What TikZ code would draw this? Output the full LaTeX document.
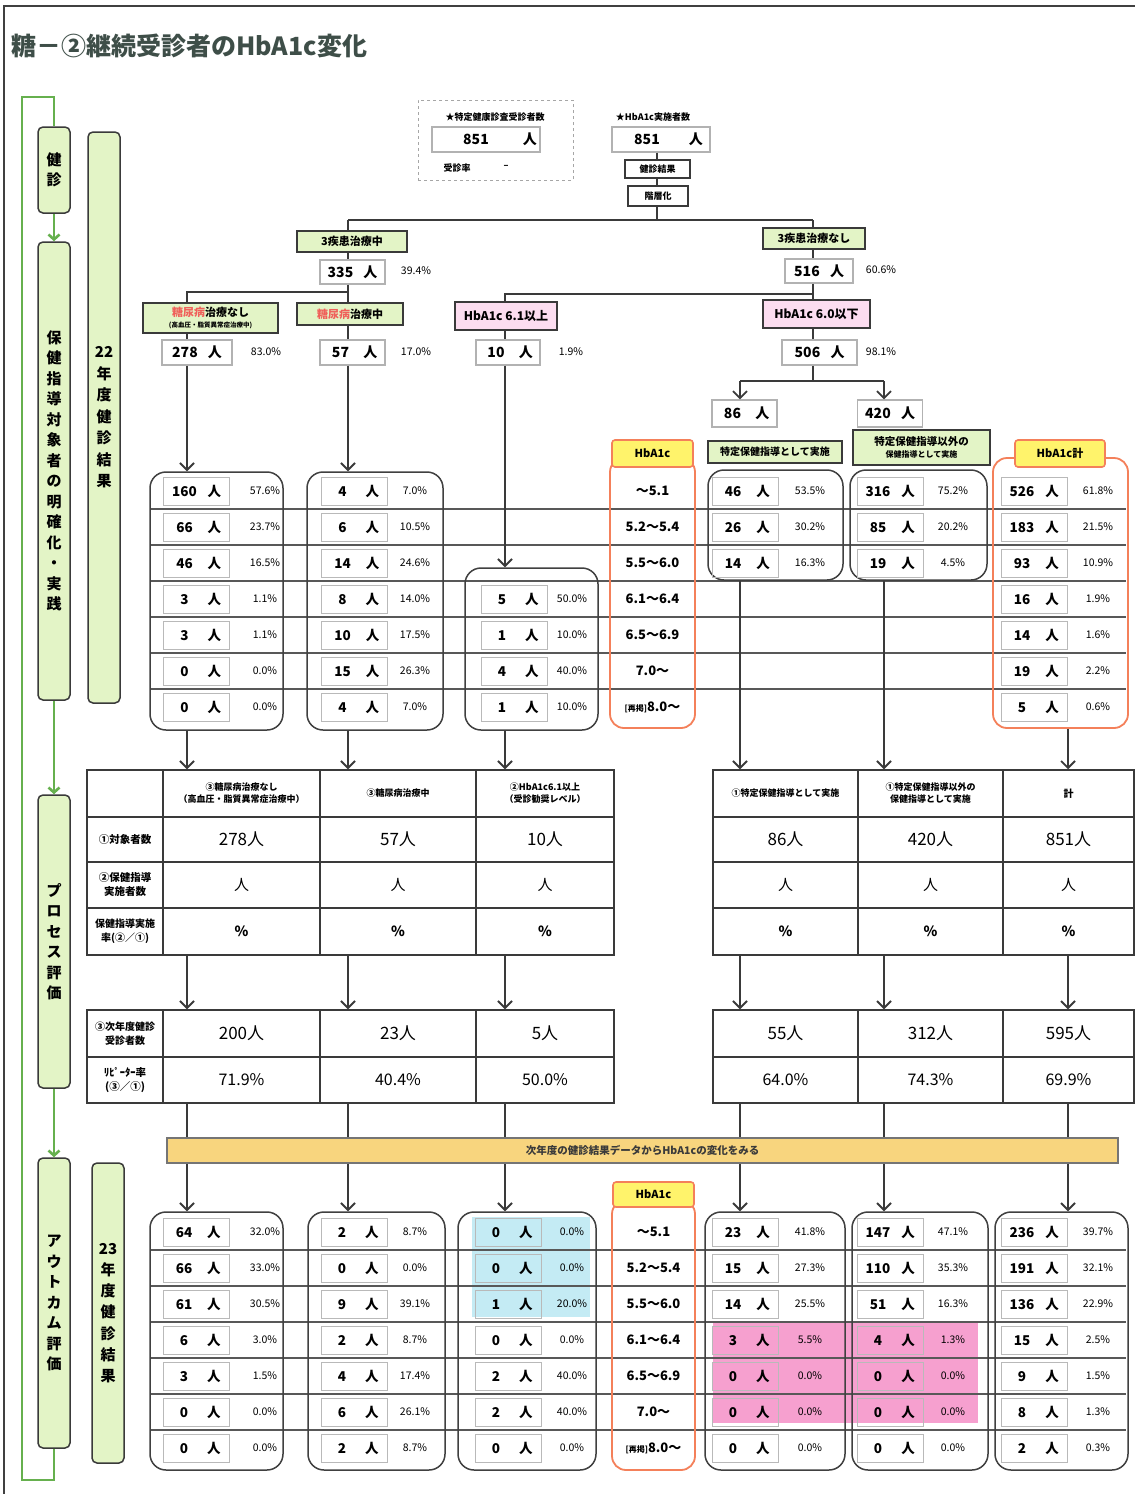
\documentclass[tikz,border=0pt]{standalone}
\usepackage{fontspec}
\setmainfont{Noto Sans CJK JP}
\usetikzlibrary{arrows.meta}
\newcommand\fz[1]{\fontsize{#1}{#1}\selectfont}
\newcommand\fzl[2]{\fontsize{#1}{#2}\selectfont}
\newcommand\nn[1]{\makebox[36pt][c]{#1}\makebox[24pt][c]{人}}
\newcommand\rowcell[6]{%
 \node[numbox] (#1) at (#2,#3) {\nn{#4}};
 \node[pct] (#1p) at (#5,#3) {#6\%};}
\definecolor{ln}{HTML}{3A3A3A}
\definecolor{lgreen}{HTML}{E3F4C6}
\definecolor{gline}{HTML}{66B04E}
\definecolor{lpink}{HTML}{FCDDF0}
\definecolor{orng}{HTML}{F4805A}
\definecolor{yel}{HTML}{FFF36B}
\definecolor{banner}{HTML}{F8D57E}
\definecolor{cyanh}{HTML}{C4EBF4}
\definecolor{pinkh}{HTML}{F6A0CF}
\definecolor{titlec}{HTML}{3E4E48}
\definecolor{redt}{HTML}{F0605A}
\begin{document}
\begin{tikzpicture}[x=1pt,y=-1pt,
 tl/.style={draw=ln,line width=1.8pt},
 arr/.style={draw=ln,line width=1.8pt,-{Straight Barb[length=7pt,width=14pt]}},
 garr/.style={draw=gline,line width=2.6pt,-{Straight Barb[length=5pt,width=11pt]}},
 gl/.style={draw=gline,line width=2.6pt},
 numbox/.style={draw=gray!55,line width=1pt,minimum width=66pt,minimum height=28pt,inner sep=0pt,font=\fz{13.5}\bfseries},
 pct/.style={font=\fz{10.5},inner sep=0pt},
 tbox/.style={draw=gray!60,fill=white,line width=1.2pt,inner sep=0pt,font=\fz{14}\bfseries},
 sbox/.style={draw=ln,fill=white,line width=1.2pt,inner sep=0pt,font=\fz{9}\bfseries},
 gbox/.style={draw=ln,fill=lgreen,line width=1.3pt,inner sep=1pt,font=\fzl{11}{13}\bfseries,align=center},
 pbox/.style={draw=ln,fill=lpink,line width=1.3pt,inner sep=1pt,font=\fz{12}\bfseries},
 hbh/.style={draw=orng,fill=yel,line width=1.6pt,rounded corners=3pt,inner sep=0pt,font=\fz{11}\bfseries},
 oframe/.style={draw=orng,line width=1.8pt,rounded corners=14pt,inner sep=0pt},
 tframe/.style={draw=gray!50!black,line width=1.5pt,rounded corners=16pt,inner sep=0pt},
 sep/.style={draw=ln!85,line width=1.2pt},
 ptab/.style={draw=ln,line width=1.5pt,inner sep=0pt},
 grid/.style={draw=ln,line width=1.3pt},
 lbox/.style={draw=ln,fill=lgreen,line width=1.5pt,rounded corners=5pt,inner sep=0pt,minimum width=32pt},
 vtxt/.style={align=center,font=\fzl{15}{20.5}\bfseries},
 hb/.style={font=\fz{13}\bfseries},
 cellh/.style={font=\fzl{9}{12}\bfseries,align=center,inner sep=0pt},
 cellv/.style={font=\fz{17}},
]
\useasboundingbox (0,0) rectangle (1135,1494);
\fill[white] (0,0) rectangle (1135,1494);
\draw[gray!50!black,line width=1.5pt] (1135,6) -- (4,6) -- (4,1494);

% title
\node[anchor=west,font=\fz{25}\bfseries,text=titlec,inner sep=0pt] (title) at (11,46) {糖－②継続受診者のHbA1c変化};

% left flow
\node[lbox,minimum height=86pt,vtxt] (L1) at (54,170) {健\\診};
\node[lbox,minimum height=458pt,vtxt] (L2) at (54,471) {保\\健\\指\\導\\対\\象\\者\\の\\明\\確\\化\\・\\実\\践};
\node[lbox,minimum height=293pt,vtxt] (L3) at (54,941.5) {プ\\ロ\\セ\\ス\\評\\価};
\node[lbox,minimum height=290pt,vtxt] (L4) at (54,1303) {ア\\ウ\\ト\\カ\\ム\\評\\価};
\node[lbox,minimum height=571pt,vtxt,font=\fzl{15}{21.5}\bfseries] (Y22) at (104,417.5) {22\\年\\度\\健\\診\\結\\果};
\node[lbox,minimum height=300pt,vtxt,font=\fzl{15}{21.2}\bfseries] (Y23) at (108,1313) {23\\年\\度\\健\\診\\結\\果};
\coordinate (gTL) at (22,97);
\coordinate (gBL) at (22,1480);
\draw[gl] (L1.north) |- (gTL) -- (gBL) -| (L4.south);
\draw[garr] (L1.south) -- (L2.north);
\draw[garr] (L2.south) -- (L3.north);
\draw[garr] (L3.south) -- (L4.north);

% column coordinates
\coordinate (c1) at (187,0);
\coordinate (c2) at (348,0);
\coordinate (c3) at (505,0);
\coordinate (c4) at (740,0);
\coordinate (c5) at (884,0);
\coordinate (c6) at (1068,0);
\coordinate (xT) at (657,0);
\coordinate (xR) at (813,0);
\coordinate (jA) at (657,220);
\coordinate (jB) at (348,292);
\coordinate (jC) at (813,294);
\coordinate (jD) at (813,381);

% top boxes
\node[draw=gray!70,dashed,line width=1pt,minimum width=155pt,minimum height=80pt] (dotbox) at (495.5,140) {};
\node[font=\fz{9}\bfseries] (dottitle) at (495,117) {★特定健康診査受診者数};
\node[tbox,minimum width=108pt,minimum height=25pt] (n851a) at (486,139.5) {\makebox[88pt]{851}\makebox[20pt]{人}};
\node[font=\fz{9}\bfseries,anchor=west] (rate) at (440,168) {受診率};
\node[font=\fz{9}\bfseries] (ratev) at (506,167) {--};
\node[font=\fz{9}\bfseries] (hbtitle) at (653,117) {★HbA1c実施者数};
\node[tbox,minimum width=98pt,minimum height=25pt] (n851b) at (661,139.5) {\makebox[70pt]{851}\makebox[28pt]{人}};
\node[sbox,minimum width=65pt,minimum height=18pt] (kres) at (657.5,169) {健診結果};
\node[sbox,minimum width=60pt,minimum height=20pt] (kaiso) at (658,196) {階層化};

% tree nodes
\node[gbox,minimum width=110pt,minimum height=21pt] (g3a) at (352,241.5) {3疾患治療中};
\node[gbox,minimum width=102pt,minimum height=21pt] (g3b) at (814,238.5) {3疾患治療なし};
\node[tbox,minimum width=65pt,minimum height=24pt] (n335) at (352.5,272) {\nn{335}};
\node[pct] (p335) at (416,271) {39.4\%};
\node[tbox,minimum width=68pt,minimum height=24pt] (n516) at (819,271) {\nn{516}};
\node[pct] (p516) at (881,270) {60.6\%};
\node[gbox,minimum width=135pt,minimum height=30pt] (gA) at (210.5,318) {{\color{redt}糖尿病}治療なし\\[-2pt]{\fz{6.5}(高血圧・脂質異常症治療中)}};
\node[gbox,minimum width=106pt,minimum height=22pt] (gB) at (350,314) {{\color{redt}糖尿病}治療中};
\node[pbox,minimum width=102pt,minimum height=28pt] (pA) at (506,316) {HbA1c 6.1以上};
\node[pbox,minimum width=107pt,minimum height=28pt] (pB) at (816.5,314) {HbA1c 6.0以下};
\node[tbox,minimum width=70pt,minimum height=25pt] (n278) at (197,352.5) {\nn{278}};
\node[pct] (p278) at (266,352) {83.0\%};
\node[tbox,minimum width=65pt,minimum height=25pt] (n57) at (352.5,352.5) {\nn{57}};
\node[pct] (p57) at (416,352) {17.0\%};
\node[tbox,minimum width=64pt,minimum height=25pt] (n10) at (508,352.5) {\nn{10}};
\node[pct] (p10) at (571,352) {1.9\%};
\node[tbox,minimum width=75pt,minimum height=25pt] (n506) at (819.5,352.5) {\nn{506}};
\node[pct] (p506) at (881,352) {98.1\%};
\node[tbox,minimum width=65pt,minimum height=27pt] (n86) at (744.5,413.5) {\nn{86}};
\node[tbox,minimum width=65pt,minimum height=27pt] (n420) at (890,413.5) {\nn{420}};
\node[gbox,minimum width=134pt,minimum height=22pt,font=\fz{10}\bfseries] (gC) at (775,452) {特定保健指導として実施};
\node[gbox,minimum width=137pt,minimum height=35pt,font=\fzl{10.5}{12}\bfseries] (gD) at (921.5,447.5) {特定保健指導以外の\\{\fz{8}保健指導として実施}};

% tree lines
\draw[tl] (n851b.south -| xT) -- (kres.north -| xT);
\draw[tl] (kres.south -| xT) -- (kaiso.north -| xT);
\draw[tl] (kaiso.south -| xT) -- (jA);
\draw[tl] (jA -| c2) -- (jA -| xR);
\draw[tl] (jA -| c2) -- (g3a.north -| c2);
\draw[tl] (jA -| xR) -- (g3b.north -| xR);
\draw[tl] (g3a.south -| c2) -- (n335.north -| c2);
\draw[tl] (g3b.south -| xR) -- (n516.north -| xR);
\draw[tl] (n335.south -| c2) -- (jB) -- (jB -| c1) -- (gA.north -| c1);
\draw[tl] (jB) -- (gB.north -| c2);
\draw[tl] (gA.south -| c1) -- (n278.north -| c1);
\draw[tl] (gB.south -| c2) -- (n57.north -| c2);
\draw[tl] (n516.south -| xR) -- (jC) -- (jC -| c3) -- (pA.north -| c3);
\draw[tl] (jC) -- (pB.north -| xR);
\draw[tl] (pA.south -| c3) -- (n10.north -| c3);
\draw[tl] (pB.south -| xR) -- (n506.north -| xR);
\draw[tl] (n506.south -| xR) -- (jD);
\draw[tl] (jD -| c4) -- (jD -| c5);
\draw[arr] (jD -| c4) -- (n86.north -| c4);
\draw[arr] (jD -| c5) -- (n420.north -| c5);

% upper separators
\foreach \yy in {509,545,581,617,653} \draw[sep] (150,\yy) -- (1126,\yy);
\draw[sep,line width=2.4pt] (150,689) -- (1126,689);

% upper frames
\node[tframe,minimum width=133pt,minimum height=258pt] (T1) at (216.5,601) {};
\node[tframe,minimum width=136pt,minimum height=258pt] (T2) at (375,601) {};
\node[tframe,minimum width=133pt,minimum height=162pt] (T3) at (531.5,649) {};
\node[oframe,minimum width=85pt,minimum height=270pt] (H1) at (652.5,593) {};
\node[tframe,minimum width=135pt,minimum height=110pt] (T4) at (775.5,525) {};
\node[tframe,minimum width=137pt,minimum height=110pt] (T5) at (918.5,525) {};
\node[oframe,minimum width=135pt,minimum height=270pt] (T6) at (1060.5,593) {};
\node[hbh,minimum width=81pt,minimum height=27pt] (H1h) at (652.5,453.5) {HbA1c};
\node[hbh,minimum width=90pt,minimum height=27pt] (T6h) at (1060,453.5) {HbA1c計};

\draw[arr] (n278.south -| c1) -- (T1.north -| c1);
\draw[arr] (n57.south -| c2) -- (T2.north -| c2);
\draw[arr] (n10.south -| c3) -- (T3.north -| c3);

% upper cells
\foreach \n/\p [count=\i] in {160/57.6,66/23.7,46/16.5,3/1.1,3/1.1,0/0.0,0/0.0}{\rowcell{ua\i}{196.5}{455+36*\i}{\n}{265}{\p}}
\foreach \n/\p [count=\i] in {4/7.0,6/10.5,14/24.6,8/14.0,10/17.5,15/26.3,4/7.0}{\rowcell{ub\i}{354.5}{455+36*\i}{\n}{415}{\p}}
\foreach \n/\p [count=\i from 4] in {5/50.0,1/10.0,4/40.0,1/10.0}{\rowcell{uc\i}{514}{455+36*\i}{\n}{572}{\p}}
\foreach \n/\p [count=\i] in {46/53.5,26/30.2,14/16.3}{\rowcell{ud\i}{745}{455+36*\i}{\n}{810}{\p}}
\foreach \n/\p [count=\i] in {316/75.2,85/20.2,19/4.5}{\rowcell{ue\i}{890}{455+36*\i}{\n}{953}{\p}}
\foreach \n/\p [count=\i] in {526/61.8,183/21.5,93/10.9,16/1.9,14/1.6,19/2.2,5/0.6}{\rowcell{uf\i}{1034}{455+36*\i}{\n}{1098}{\p}}
\foreach \t [count=\i] in {～5.1,5.2～5.4,5.5～6.0,6.1～6.4,6.5～6.9,7.0～}{\node[hb] (uh\i) at (652.5,455+36*\i) {\t};}
\node[hb] (uh7) at (652.5,707) {{\fz{8}[再掲]}8.0～};

% process tables
\node[ptab,minimum width=527pt,minimum height=185pt] (PL) at (350.5,862.5) {};
\draw[grid] (163,770) -- (163,955) (320,770) -- (320,955) (476,770) -- (476,955)
  (87,817) -- (614,817) (87,862) -- (614,862) (87,908) -- (614,908);
\node[ptab,minimum width=421pt,minimum height=185pt] (PR) at (923.5,862.5) {};
\draw[grid] (858,770) -- (858,955) (1003,770) -- (1003,955)
  (713,817) -- (1134,817) (713,862) -- (1134,862) (713,908) -- (1134,908);
\node[cellh] (h1) at (241.5,793.5) {③糖尿病治療なし\\（高血圧・脂質異常症治療中）};
\node[cellh] (h2) at (398,793.5) {③糖尿病治療中};
\node[cellh] (h3) at (545,793.5) {②HbA1c6.1以上\\（受診勧奨レベル）};
\node[cellh] (h4) at (785.5,793.5) {①特定保健指導として実施};
\node[cellh] (h5) at (930.5,793.5) {①特定保健指導以外の\\保健指導として実施};
\node[cellh,font=\fz{10}\bfseries] (h6) at (1068.5,793.5) {計};
\node[cellh,font=\fz{10.5}\bfseries] (r1l) at (125,839.5) {①対象者数};
\node[cellh,font=\fzl{10.5}{14}\bfseries] (r2l) at (125,885) {②保健指導\\実施者数};
\node[cellh,font=\fzl{10}{14}\bfseries] (r3l) at (125,931.5) {保健指導実施\\率(②／①)};
\foreach \x/\v [count=\i] in {241.5/278人,398/57人,545/10人,785.5/86人,930.5/420人,1068.5/851人}{
  \node[cellv] (v1\i) at (\x,839.5) {\v};
  \node[cellv,font=\fz{15}] (v2\i) at (\x,885) {人};
  \node[cellv,font=\fz{14}\bfseries] (v3\i) at (\x,931.5) {\%};
}

\node[ptab,minimum width=527pt,minimum height=93pt] (QL) at (350.5,1056.5) {};
\draw[grid] (163,1010) -- (163,1103) (320,1010) -- (320,1103) (476,1010) -- (476,1103) (87,1057) -- (614,1057);
\node[ptab,minimum width=421pt,minimum height=93pt] (QR) at (923.5,1056.5) {};
\draw[grid] (858,1010) -- (858,1103) (1003,1010) -- (1003,1103) (713,1057) -- (1134,1057);
\node[cellh,font=\fzl{10}{14}\bfseries] (q1l) at (125,1033.5) {③次年度健診\\受診者数};
\node[cellh,font=\fzl{10.5}{14}\bfseries] (q2l) at (125,1080) {ﾘﾋﾟｰﾀｰ率\\(③／①)};
\foreach \x/\v/\r [count=\i] in {241.5/200人/71.9,398/23人/40.4,545/5人/50.0,785.5/55人/64.0,930.5/312人/74.3,1068.5/595人/69.9}{
  \node[cellv] (w1\i) at (\x,1033.5) {\v};
  \node[cellv,font=\fz{16}] (w2\i) at (\x,1080) {\r\%};
}

% arrows to process tables
\draw[arr] (T1.south -| c1) -- (PL.north -| c1);
\draw[arr] (T2.south -| c2) -- (PL.north -| c2);
\draw[arr] (T3.south -| c3) -- (PL.north -| c3);
\draw[arr] (T4.south -| c4) -- (PR.north -| c4);
\draw[arr] (T5.south -| c5) -- (PR.north -| c5);
\draw[arr] (T6.south -| c6) -- (PR.north -| c6);
\draw[arr] (PL.south -| c1) -- (QL.north -| c1);
\draw[arr] (PL.south -| c2) -- (QL.north -| c2);
\draw[arr] (PL.south -| c3) -- (QL.north -| c3);
\draw[arr] (PR.south -| c4) -- (QR.north -| c4);
\draw[arr] (PR.south -| c5) -- (QR.north -| c5);
\draw[arr] (PR.south -| c6) -- (QR.north -| c6);

% lower highlights and separators
\fill[cyanh] (472,1217) rectangle (590,1317);
\fill[pinkh] (713,1322) rectangle (978,1423);
\foreach \yy in {1250,1286,1322,1358,1394} \draw[sep] (150,\yy) -- (1126,\yy);
\draw[sep,line width=2.4pt] (150,1430) -- (1126,1430);

% lower frames
\node[tframe,minimum width=133pt,minimum height=258pt] (B1) at (216.5,1341) {};
\node[tframe,minimum width=137pt,minimum height=258pt] (B2) at (376.5,1341) {};
\node[tframe,minimum width=138pt,minimum height=258pt] (B3) at (527,1341) {};
\node[oframe,minimum width=83pt,minimum height=270pt] (H2) at (653.5,1335) {};
\node[tframe,minimum width=140pt,minimum height=258pt] (B4) at (775,1341) {};
\node[tframe,minimum width=136pt,minimum height=258pt] (B5) at (920,1341) {};
\node[tframe,minimum width=133pt,minimum height=258pt] (B6) at (1061.5,1341) {};
\node[hbh,minimum width=81pt,minimum height=25pt] (H2h) at (653.5,1194.5) {HbA1c};

\draw[arr] (QL.south -| c1) -- (B1.north -| c1);
\draw[arr] (QL.south -| c2) -- (B2.north -| c2);
\draw[arr] (QL.south -| c3) -- (B3.north -| c3);
\draw[arr] (QR.south -| c4) -- (B4.north -| c4);
\draw[arr] (QR.south -| c5) -- (B5.north -| c5);
\draw[arr] (QR.south -| c6) -- (B6.north -| c6);

\node[draw=ln!70,fill=banner,line width=1.2pt,minimum width=951pt,minimum height=25pt,font=\fz{10.5}\bfseries,text=ln] (ban) at (642.5,1150.5) {次年度の健診結果データからHbA1cの変化をみる};

% lower cells
\foreach \n/\p [count=\i] in {64/32.0,66/33.0,61/30.5,6/3.0,3/1.5,0/0.0,0/0.0}{\rowcell{la\i}{196}{1196+36*\i}{\n}{265}{\p}}
\foreach \n/\p [count=\i] in {2/8.7,0/0.0,9/39.1,2/8.7,4/17.4,6/26.1,2/8.7}{\rowcell{lb\i}{354}{1196+36*\i}{\n}{415}{\p}}
\foreach \n/\p [count=\i] in {0/0.0,0/0.0,1/20.0,0/0.0,2/40.0,2/40.0,0/0.0}{\rowcell{lc\i}{508}{1196+36*\i}{\n}{572}{\p}}
\foreach \n/\p [count=\i] in {23/41.8,15/27.3,14/25.5,3/5.5,0/0.0,0/0.0,0/0.0}{\rowcell{ld\i}{745}{1196+36*\i}{\n}{810}{\p}}
\foreach \n/\p [count=\i] in {147/47.1,110/35.3,51/16.3,4/1.3,0/0.0,0/0.0,0/0.0}{\rowcell{le\i}{890}{1196+36*\i}{\n}{953}{\p}}
\foreach \n/\p [count=\i] in {236/39.7,191/32.1,136/22.9,15/2.5,9/1.5,8/1.3,2/0.3}{\rowcell{lf\i}{1034}{1196+36*\i}{\n}{1098}{\p}}
\foreach \t [count=\i] in {～5.1,5.2～5.4,5.5～6.0,6.1～6.4,6.5～6.9,7.0～}{\node[hb] (lh\i) at (653.5,1196+36*\i) {\t};}
\node[hb] (lh7) at (653.5,1448) {{\fz{8}[再掲]}8.0～};
\end{tikzpicture}
\end{document}
